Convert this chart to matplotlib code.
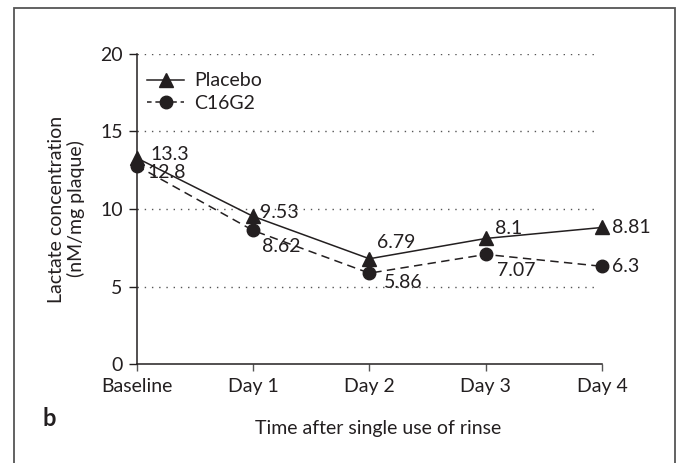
import matplotlib.pyplot as plt
from matplotlib import patches

plt.rcParams['font.family'] = ['Lato', 'DejaVu Sans']

days = ['Baseline', 'Day 1', 'Day 2', 'Day 3', 'Day 4']
placebo = [13.3, 9.53, 6.79, 8.1, 8.81]
c16g2 = [12.8, 8.62, 5.86, 7.07, 6.3]
y_ticks = [0, 5, 10, 15, 20]

# label offsets in pixels (dx, dy) per point
placebo_off = [(14, 3), (7, 4), (8, 16), (9, 10), (10, 0)]
c16g2_off = [(11, -7), (9, -16), (15, -9.5), (11, -16), (10, 0)]

fs = 14
fig = plt.figure(figsize=(6.76, 4.63), dpi=100)
ax = fig.add_axes([136.5 / 676, 1 - 364 / 463, (602.3 - 136.5) / 676, 310 / 463])

x = list(range(len(days)))

# dotted guide lines at the major y values
for v in y_ticks[1:]:
    ax.hlines(v, 0, 3.97, colors='#555555', linestyles=(0, (1, 4.2)), lw=1.0, zorder=1)

ax.plot(x, placebo, color='#231f20', lw=1.1, marker='^', ms=9.5,
        label='Placebo', clip_on=False, zorder=3)
ax.plot(x, c16g2, color='#231f20', lw=1.1, ls=(0, (3.5, 2.5)), marker='o', ms=9,
        label='C16G2', clip_on=False, zorder=3)
# longer dashes on the plotted series
ax.get_lines()[-1].set_dashes([5.5, 3.5])

for xi, v, (dx, dy) in zip(x, placebo, placebo_off):
    ax.annotate(f'{v:g}', (xi, v), xytext=(dx * 0.72, dy * 0.72), textcoords='offset points',
                ha='left', va='center', fontsize=fs, color='#231f20')
for xi, v, (dx, dy) in zip(x, c16g2, c16g2_off):
    ax.annotate(f'{v:g}', (xi, v), xytext=(dx * 0.72, dy * 0.72), textcoords='offset points',
                ha='left', va='center', fontsize=fs, color='#231f20')

ax.set_xlim(0, 4)
ax.set_ylim(0, 20)
ax.set_xticks(x)
ax.set_xticklabels(days, fontsize=fs, color='#231f20')
ax.set_yticks(y_ticks)
ax.set_yticklabels([str(v) for v in y_ticks], fontsize=fs, color='#231f20')
ax.tick_params(axis='y', direction='out', length=6, width=1.0, pad=4, color='#231f20')
ax.tick_params(axis='x', direction='out', length=5, width=1.0, pad=5, color='#555555')

for s in ['top', 'right']:
    ax.spines[s].set_visible(False)
for s in ['left', 'bottom']:
    ax.spines[s].set_linewidth(1.1)
    ax.spines[s].set_color('#231f20')

ax.set_ylabel('Lactate concentration\n(nM/mg plaque)', fontsize=fs, color='#231f20',
              linespacing=1.12, labelpad=11)
ax.set_xlabel('Time after single use of rinse', fontsize=fs, color='#231f20')
ax.xaxis.set_label_coords((378 - 136.5) / 465.8, -(420 - 364) / 310)

leg = ax.legend(loc='upper left', bbox_to_anchor=(0.0, 0.975), frameon=False,
                fontsize=fs, handlelength=1.9, handletextpad=0.5,
                labelspacing=0.3, borderaxespad=0.15)
for t in leg.get_texts():
    t.set_color('#231f20')
leg.get_lines()[1].set_dashes([3, 2.5])

fig.text(42 / 676, 1 - 418 / 463, 'b', fontsize=fs + 3, fontweight='bold',
         ha='left', va='center', color='#231f20')

# outer panel frame (open at the bottom)
frame = patches.Rectangle((14 / 676, -0.1), (674.5 - 14) / 676, 1.1 - 7.5 / 463,
                          transform=fig.transFigure, fill=False,
                          edgecolor='#555555', lw=1.3)
fig.patches.append(frame)

fig.savefig('out.png', dpi=100)
